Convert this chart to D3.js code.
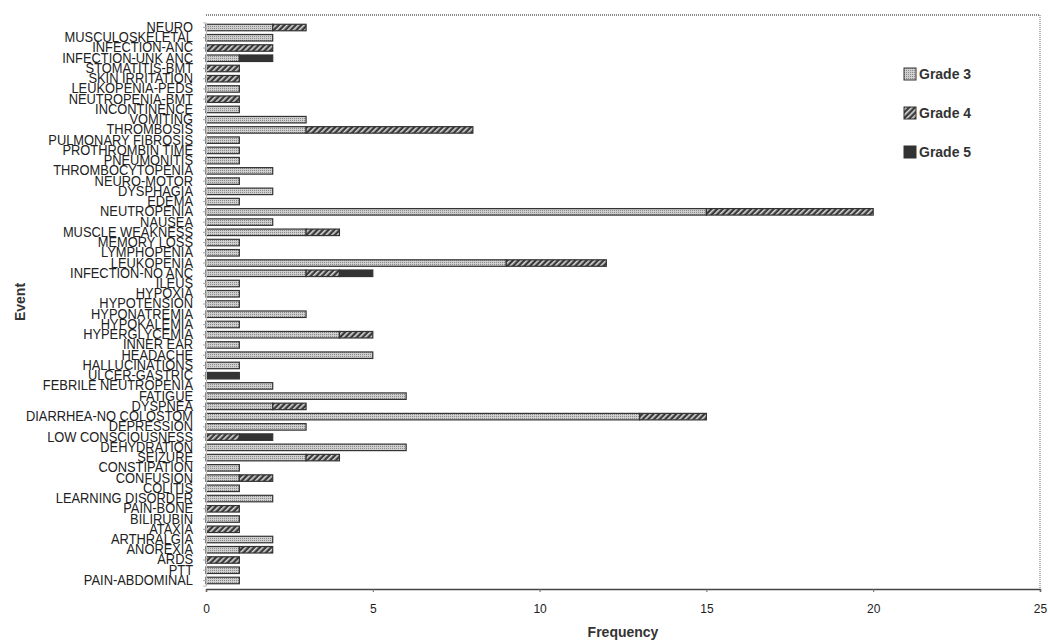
<!DOCTYPE html>
<html><head><meta charset="utf-8">
<script src="https://cdn.jsdelivr.net/npm/d3@7"></script>
<style>body{margin:0;background:#fff}svg{display:block}</style>
</head><body>
<svg id="c" width="1050" height="644"></svg>
<script>
const categories = ["NEURO","MUSCULOSKELETAL","INFECTION-ANC","INFECTION-UNK ANC","STOMATITIS-BMT","SKIN IRRITATION","LEUKOPENIA-PEDS","NEUTROPENIA-BMT","INCONTINENCE","VOMITING","THROMBOSIS","PULMONARY FIBROSIS","PROTHROMBIN TIME","PNEUMONITIS","THROMBOCYTOPENIA","NEURO-MOTOR","DYSPHAGIA","EDEMA","NEUTROPENIA","NAUSEA","MUSCLE WEAKNESS","MEMORY LOSS","LYMPHOPENIA","LEUKOPENIA","INFECTION-NO ANC","ILEUS","HYPOXIA","HYPOTENSION","HYPONATREMIA","HYPOKALEMIA","HYPERGLYCEMIA","INNER EAR","HEADACHE","HALLUCINATIONS","ULCER-GASTRIC","FEBRILE NEUTROPENIA","FATIGUE","DYSPNEA","DIARRHEA-NO COLOSTOM","DEPRESSION","LOW CONSCIOUSNESS","DEHYDRATION","SEIZURE","CONSTIPATION","CONFUSION","COLITIS","LEARNING DISORDER","PAIN-BONE","BILIRUBIN","ATAXIA","ARTHRALGIA","ANOREXIA","ARDS","PTT","PAIN-ABDOMINAL"];
const grade3 = [2,2,0,1,0,0,1,0,1,3,3,1,1,1,2,1,2,1,15,2,3,1,1,9,3,1,1,1,3,1,4,1,5,1,0,2,6,2,13,3,0,6,3,1,1,1,2,0,1,0,2,1,0,1,1];
const grade4 = [1,0,2,0,1,1,0,1,0,0,5,0,0,0,0,0,0,0,5,0,1,0,0,3,1,0,0,0,0,0,1,0,0,0,0,0,0,1,2,0,1,0,1,0,1,0,0,1,0,1,0,1,1,0,0];
const grade5 = [0,0,0,1,0,0,0,0,0,0,0,0,0,0,0,0,0,0,0,0,0,0,0,0,1,0,0,0,0,0,0,0,0,0,1,0,0,0,0,0,1,0,0,0,0,0,0,0,0,0,0,0,0,0,0];
const seriesNames = ["Grade 3","Grade 4","Grade 5"];
const xTicks = [0,5,10,15,20,25];

const svg = d3.select("#c");
const L = 206, R = 1040, T = 15, B = 589;
const defs = svg.append("defs");
const p3 = defs.append("pattern").attr("id","g3").attr("patternUnits","userSpaceOnUse").attr("width",2).attr("height",2);
p3.append("rect").attr("width",2).attr("height",2).attr("fill","#cfcfcf");
p3.append("rect").attr("width",1).attr("height",1).attr("fill","#8a8a8a");
const p4 = defs.append("pattern").attr("id","g4").attr("patternUnits","userSpaceOnUse").attr("width",4).attr("height",4)
  .attr("patternTransform","rotate(45)");
p4.append("rect").attr("width",4).attr("height",4).attr("fill","#3a3a3a");
p4.append("rect").attr("x",0).attr("y",0).attr("width",1.6).attr("height",4).attr("fill","#d8d8d8");
const fills = ["url(#g3)","url(#g4)","#333"];

const x = d3.scaleLinear().domain([0,25]).range([L,R]);
const y = d3.scaleBand().domain(categories).range([22.4,585.6]);

svg.append("line").attr("x1",L).attr("x2",R).attr("y1",T).attr("y2",T).attr("stroke","#888").attr("stroke-width",2).attr("stroke-dasharray","1,1");
svg.append("line").attr("x1",R).attr("x2",R).attr("y1",T).attr("y2",B).attr("stroke","#999").attr("stroke-width",1.5).attr("stroke-dasharray","1,1");

const rows = categories.map((c,i)=>({c, v:[grade3[i],grade4[i],grade5[i]]}));
const bh = 6.5;
rows.forEach(r=>{
  let acc = 0;
  r.v.forEach((v,k)=>{
    if(v>0){
      svg.append("rect").attr("x",x(acc)).attr("width",x(acc+v)-x(acc))
        .attr("y",y(r.c)+y.bandwidth()/2-bh/2).attr("height",bh)
        .attr("fill",fills[k]).attr("stroke","#333").attr("stroke-width",1.2);
      acc += v;
    }
  });
});

const ya = svg.append("g").attr("transform",`translate(${L},0)`)
  .call(d3.axisLeft(y).tickSize(3).tickPadding(10));
ya.select(".domain").attr("stroke","#bbb");
ya.selectAll(".tick line").attr("stroke","#aaa");
ya.selectAll("text").attr("font-family","Liberation Sans, Arial, sans-serif").attr("font-size",14).attr("fill","#222")
  .attr("transform","scale(0.92,1)").attr("x",-13/0.92);

const xa = svg.append("g").attr("transform",`translate(0,${B})`)
  .call(d3.axisBottom(x).tickValues(xTicks).tickSize(3).tickPadding(12));
xa.select(".domain").attr("stroke","#444").attr("stroke-width",1.5);
xa.selectAll(".tick line").attr("stroke","#666");
xa.selectAll("text").attr("font-family","Liberation Sans, Arial, sans-serif").attr("font-size",12).attr("fill","#222");

svg.append("text").attr("x",(L+R)/2).attr("y",637).attr("text-anchor","middle")
  .attr("font-family","Liberation Sans, Arial, sans-serif").attr("font-weight","bold").attr("font-size",14).attr("fill","#333").text("Frequency");
svg.append("text").attr("transform","translate(25,302) rotate(-90)").attr("text-anchor","middle")
  .attr("font-family","Liberation Sans, Arial, sans-serif").attr("font-weight","bold").attr("font-size",14).attr("fill","#333").text("Event");

const lg = svg.append("g");
seriesNames.forEach((n,i)=>{
  const yy = 74 + i*39;
  lg.append("rect").attr("x",904).attr("y",yy-6).attr("width",12).attr("height",12).attr("fill",fills[i]).attr("stroke","#333");
  lg.append("text").attr("x",919).attr("y",yy+5).attr("font-family","Liberation Sans, Arial, sans-serif").attr("font-weight","bold").attr("font-size",14).attr("fill","#333").text(n);
});
</script>
</body></html>
